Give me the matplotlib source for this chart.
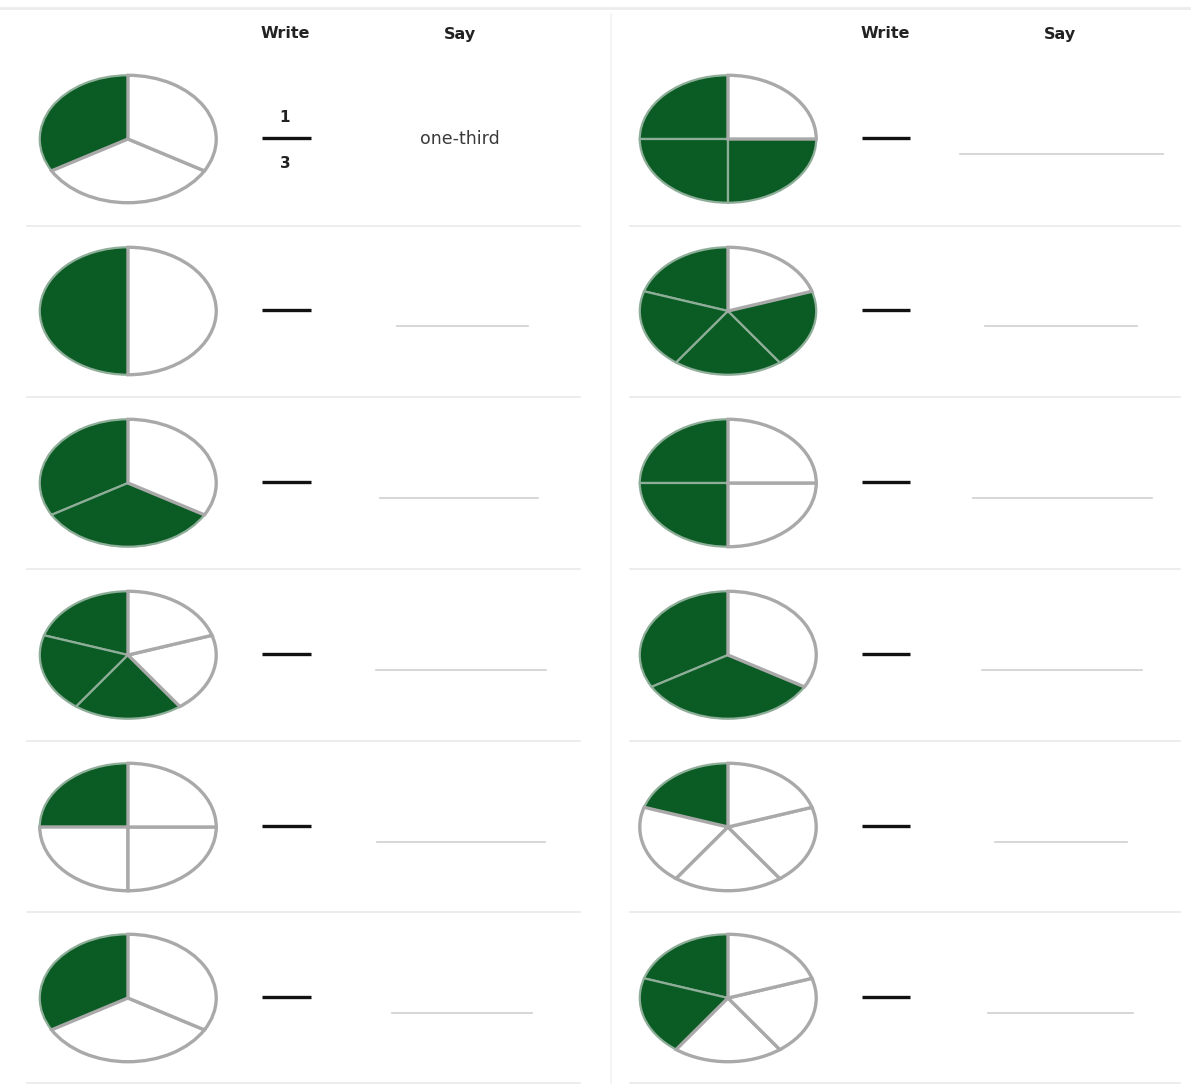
import matplotlib
matplotlib.use("Agg")
import matplotlib.pyplot as plt

# ---- data ----
left_denominators = [3, 2, 3, 5, 4, 3]
left_numerators = [1, 1, 2, 3, 1, 1]
right_denominators = [4, 5, 4, 3, 5, 5]
right_numerators = [3, 4, 2, 2, 1, 2]
headers = ["Write", "Say"]
example_num = "1"
example_den = "3"
example_word = "one-third"

# ---- style / layout ----
W, H = 1191, 1084
GREEN = "#0b5c24"
EDGE = "#a9a9a9"
row_y = [139, 311, 483, 655, 827, 998]
col_x = [128, 728]
pie_w, pie_h = 180, 130
sep_y = [226, 397, 569, 741, 912, 1083]
say_left = [None, (397, 528), (380, 538), (376, 546), (377, 545), (392, 532)]
say_right = [(960, 1163), (985, 1137), (973, 1152), (982, 1142), (995, 1127), (988, 1133)]

plt.rcParams['font.family'] = ['DejaVu Sans']
fig = plt.figure(figsize=(W / 100, H / 100), dpi=100)
fig.patch.set_facecolor("white")

bg = fig.add_axes([0, 0, 1, 1])
bg.set_xlim(0, W)
bg.set_ylim(H, 0)
bg.axis("off")

# top rule and vertical divider
bg.plot([0, W], [8, 8], color="#ececec", lw=2)
bg.plot([611, 611], [14, H], color="#f2f2f2", lw=1.2)

# headers
for off in (0, 600):
    bg.text(285 + off, 34, headers[0], ha="center", va="center", fontsize=11.5, fontweight="bold", color="#222222")
    bg.text(460 + off, 34, headers[1], ha="center", va="center", fontsize=11.5, fontweight="bold", color="#222222")

# separators
for y in sep_y:
    bg.plot([27, 580], [y, y], color="#eaeaea", lw=1.2)
    bg.plot([630, 1180], [y, y], color="#eaeaea", lw=1.2)


def draw_pie(cx, cy, den, num):
    ax = fig.add_axes([(cx - pie_w / 2) / W, 1 - (cy + pie_h / 2) / H, pie_w / W, pie_h / H])
    colors = [GREEN] * num + ["white"] * (den - num)
    wedges, _ = ax.pie([1] * den, colors=colors, startangle=90, counterclock=True,
                       wedgeprops=dict(edgecolor=EDGE, linewidth=2.4))
    for i, w in enumerate(wedges):
        if i < num:
            w.set_edgecolor("#8fae99")
            w.set_linewidth(1.6)
            w.set_zorder(1)
        else:
            w.set_zorder(2)
    ax.set_aspect("auto")
    ax.set_xlim(-1.02, 1.02)
    ax.set_ylim(-1.02, 1.02)
    ax.axis("off")


for i in range(6):
    draw_pie(col_x[0], row_y[i], left_denominators[i], left_numerators[i])
    draw_pie(col_x[1], row_y[i], right_denominators[i], right_numerators[i])

# write dashes and say lines
for i in range(6):
    ly = row_y[i] - 1
    bg.plot([262, 311], [ly, ly], color="#111111", lw=2.4, solid_capstyle="butt")
    bg.plot([862, 910], [ly, ly], color="#111111", lw=2.4, solid_capstyle="butt")
    if say_left[i] is not None:
        bg.plot(list(say_left[i]), [ly + 16, ly + 16], color="#cfcfcf", lw=1.2)
    bg.plot(list(say_right[i]), [ly + 16, ly + 16], color="#cfcfcf", lw=1.2)

# example answer
bg.text(285, 117, example_num, ha="center", va="center", fontsize=11, fontweight="bold", color="#222222")
bg.text(285, 164, example_den, ha="center", va="center", fontsize=11, fontweight="bold", color="#222222")
bg.text(460, 139, example_word, ha="center", va="center", fontsize=12.5, color="#3a3a3a")

fig.savefig("out.png", dpi=100, facecolor="white")
